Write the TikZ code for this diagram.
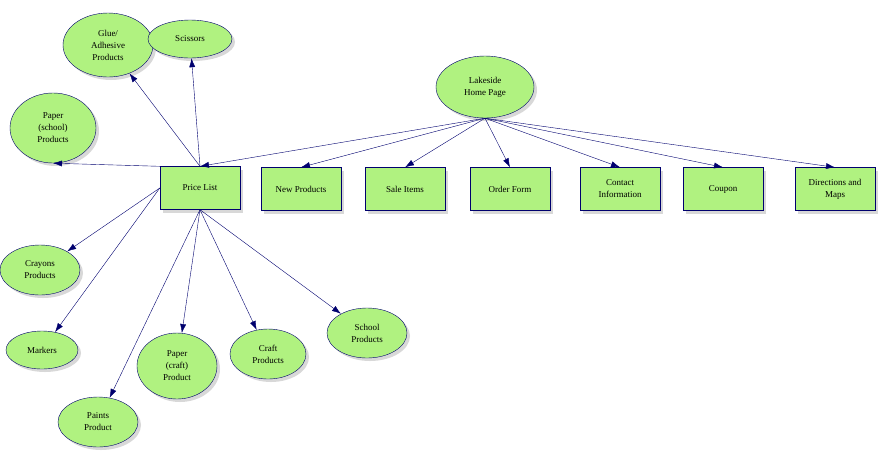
\documentclass[tikz,border=0pt]{standalone}
\usepackage{fontspec}
\setmainfont{Liberation Serif}
\usetikzlibrary{shapes.geometric,shadows,arrows.meta}
\definecolor{nodegreen}{RGB}{176,242,128}
\definecolor{edgenavy}{RGB}{0,0,110}
\tikzset{
  page/.style={draw=edgenavy, fill=nodegreen, minimum width=80pt, minimum height=43pt,
    align=center, font=\fontsize{9}{12}\selectfont,
    drop shadow={shadow xshift=3pt, shadow yshift=-3pt, fill=gray!60}},
  item/.style={ellipse, draw=edgenavy, fill=nodegreen, inner sep=0pt, align=center,
    font=\fontsize{9}{12}\selectfont,
    drop shadow={shadow xshift=3pt, shadow yshift=-3pt, fill=gray!60}},
  link/.style={draw=edgenavy, -{Latex[length=9pt,width=6pt]}}
}
\begin{document}
\begin{tikzpicture}[x=1pt,y=-1pt]
        \useasboundingbox (0,0) rectangle (881,451);
        % home page and the pages below it
        \node[item, minimum width=98pt, minimum height=62pt] (home) at (485,87) {Lakeside\\Home Page};
        \node[page] (price) at (200,188) {Price List};
        \node[page] (new) at (301,189) {New Products};
        \node[page] (sale) at (405,189) {Sale Items};
        \node[page] (order) at (510,189) {Order Form};
        \node[page] (contact) at (620,189) {Contact\\Information};
        \node[page] (coupon) at (723,189) {Coupon};
        \node[page] (maps) at (835,189) {Directions and\\Maps};

        % products on the price list
        \node[item, minimum width=90pt, minimum height=64pt] (glue) at (108,45) {Glue/\\Adhesive\\Products};
        \node[item, minimum width=84pt, minimum height=38pt] (scissors) at (190,39) {Scissors};
        \node[item, minimum width=86pt, minimum height=70pt] (pschool) at (53,128) {Paper\\(school)\\Products};
        \node[item, minimum width=80pt, minimum height=50pt] (crayons) at (40,270) {Crayons\\Products};
        \node[item, minimum width=72pt, minimum height=38pt] (markers) at (42,350) {Markers};
        \node[item, minimum width=80pt, minimum height=50pt] (paints) at (98,422) {Paints\\Product};
        \node[item, minimum width=80pt, minimum height=66pt] (pcraft) at (177,366) {Paper\\(craft)\\Product};
        \node[item, minimum width=76pt, minimum height=50pt] (craft) at (268,354) {Craft\\Products};
        \node[item, minimum width=80pt, minimum height=50pt] (school) at (367,333) {School\\Products};

        \coordinate (pltop) at (price.north);
        \coordinate (plbot) at (price.south);
        \coordinate (plleft) at (price.west);
        \coordinate (plcorner) at (price.north west);

        \draw[link] (home.south) -- (pltop);
        \draw[link] (home.south) -- (new.north);
        \draw[link] (home.south) -- (sale.north);
        \draw[link] (home.south) -- (order.north);
        \draw[link] (home.south) -- (contact.north);
        \draw[link] (home.south) -- (coupon.north);
        \draw[link] (home.south) -- (maps.north);

        \draw[link] (pltop) -- (glue);
        \draw[link] (pltop) -- (scissors);
        \draw[link] (pltop) -- (plcorner) -- (pschool.south);
        \draw[link] (plleft) -- (crayons);
        \draw[link] (plleft) -- (markers);
        \draw[link] (plbot) -- (paints);
        \draw[link] (plbot) -- (pcraft);
        \draw[link] (plbot) -- (craft);
        \draw[link] (plbot) -- (school);
    \end{tikzpicture}
\end{document}
